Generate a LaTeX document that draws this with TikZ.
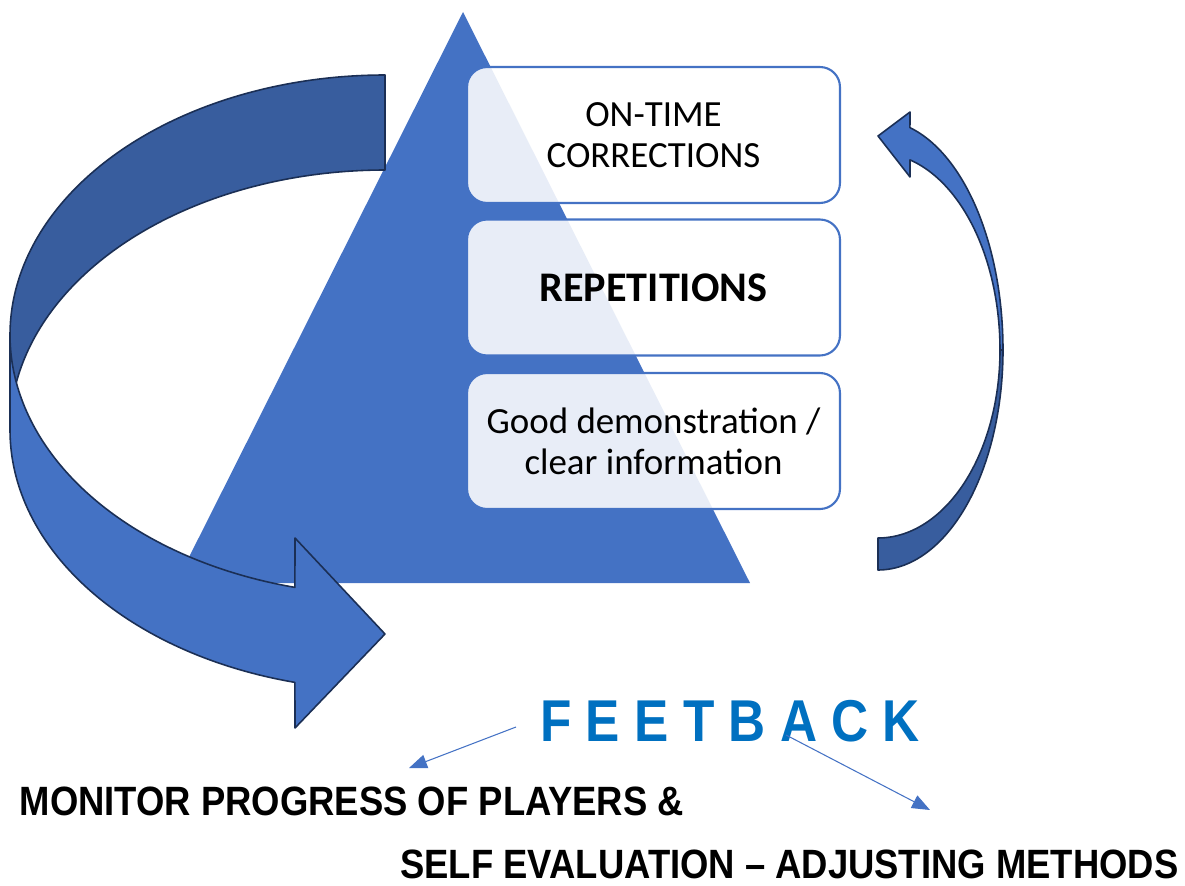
\documentclass[tikz,border=0pt]{standalone}
\usepackage{fontspec}
\usetikzlibrary{arrows.meta}
\newfontfamily\calfont{Carlito}
\newfontfamily\narrowfont[FakeStretch=0.89]{Liberation Sans}
\newfontfamily\feedfont[FakeStretch=0.87]{Liberation Sans}
\definecolor{accent}{HTML}{4472C4}
\definecolor{accentdark}{HTML}{385D9E}
\definecolor{edgenavy}{HTML}{1B2F55}
\definecolor{fbblue}{HTML}{0070C0}

\begin{document}
\begin{tikzpicture}[x=0.02cm,y=-0.02cm,
  ribbon/.style={draw=edgenavy,line width=0.9pt,line join=round},
  stepbox/.style={draw=accent,line width=1.2pt,rounded corners=0.4cm,
    fill=white,fill opacity=0.88,text opacity=1,
    minimum width=7.46cm,minimum height=2.72cm,align=center,inner sep=0pt,
    font=\calfont\fontsize{21}{23.3}\selectfont},
  caption/.style={font=\narrowfont\bfseries\fontsize{23.3}{27}\selectfont,
    inner sep=0pt,anchor=base west},
  pointer/.style={draw=accent,line width=0.6pt,
    -{Triangle[length=0.36cm,width=0.28cm]}}
]
\useasboundingbox (0,0) rectangle (1185,885);

% pyramid
\fill[accent] (463,12) -- (750,583) -- (176,583) -- cycle;

% left ribbon arrow: back face, then front face with head
\draw[ribbon,fill=accentdark]
  plot[domain=270:180,samples=90] ({385+375*cos(\x)},{335+260*sin(\x)})
  -- plot[domain=180:270,samples=90] ({385+375*cos(\x)},{430+260*sin(\x)})
  -- cycle;
\draw[ribbon,fill=accent]
  plot[domain=180:103.9,samples=90] ({385+375*cos(\x)},{335+260*sin(\x)})
  -- (295,538) -- (385,634) -- (295,728)
  -- plot[domain=103.9:180,samples=90] ({385+375*cos(\x)},{430+260*sin(\x)})
  -- cycle;

% right ribbon arrow: lower back half, then upper half with head
\draw[ribbon,fill=accentdark]
  plot[domain=90:0,samples=60] ({878+125*cos(\x)},{350+220*sin(\x)})
  -- plot[domain=0:90,samples=60] ({878+122*cos(\x)},{350+188*sin(\x)})
  -- cycle;
\draw[ribbon,fill=accent]
  plot[domain=0:-75.2,samples=60] ({878+125*cos(\x)},{350+230*sin(\x)})
  -- (910,112) -- (878,136) -- (910,177)
  -- plot[domain=-74.8:0,samples=60] ({878+122*cos(\x)},{350+197*sin(\x)})
  -- cycle;

% steps
\node[stepbox] (b1) at (653.5,135) {ON-TIME\\CORRECTIONS};
\node[stepbox,font=\calfont\bfseries\fontsize{24}{28}\selectfont] (b2) at (653.5,287.5) {REPETITIONS};
\node[stepbox] (b3) at (653.5,441) {Good demonstration /\\clear information};

% feedback label and its pointers
\node[font=\feedfont\bfseries\fontsize{33.6}{40}\selectfont,text=fbblue,
  inner sep=0pt,anchor=base west] (fb) at (540,741) {F E E T B A C K};
\coordinate (fbL) at (516,727);
\coordinate (monTip) at (409,768);
\coordinate (fbR) at (786,735);
\coordinate (selfTip) at (930,810);
\draw[pointer] (fbL) -- (monTip);
\draw[pointer] (fbR) -- (selfTip);

\node[caption] (mon) at (19.5,815) {MONITOR PROGRESS OF PLAYERS \&};
\node[caption] (self) at (400,878) {SELF EVALUATION \textendash{} ADJUSTING METHODS};
\end{tikzpicture}
\end{document}
